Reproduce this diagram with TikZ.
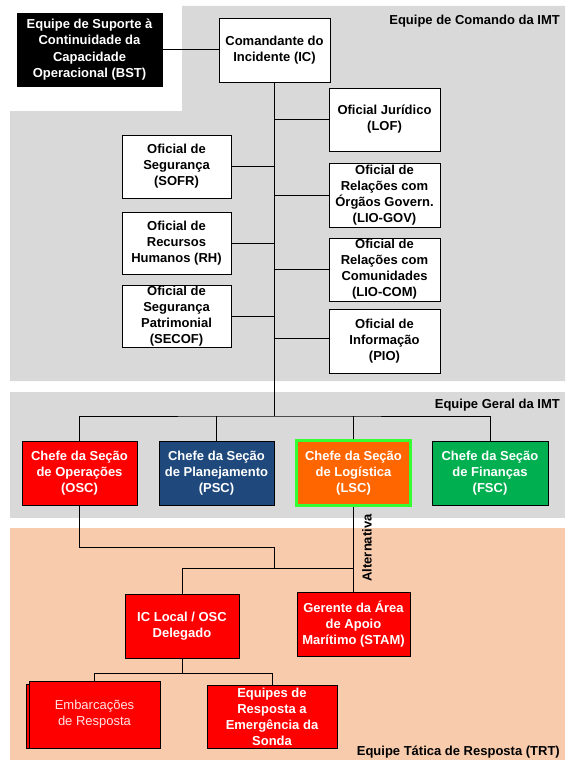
\documentclass[tikz,border=0pt]{standalone}
\usepackage{fontspec}
\setmainfont{Liberation Sans}
\definecolor{graybg}{HTML}{D9D9D9}
\definecolor{peach}{HTML}{F8CBAD}
\definecolor{pscblue}{HTML}{1F497D}
\definecolor{lscorange}{HTML}{FF6600}
\definecolor{fscgreen}{HTML}{00B050}
\definecolor{limeborder}{HTML}{33FF33}
\definecolor{pinkwhite}{HTML}{FFE4E4}
\begin{document}
\begin{tikzpicture}[x=1pt,y=-1pt,
  box/.style={draw=black,line width=0.9pt,align=center,inner sep=0pt,
    font=\fontsize{13}{16}\selectfont\bfseries,minimum height=64pt},
  whitebox/.style={box,fill=white,minimum width=111pt},
  redbox/.style={box,fill=red,text=white},
  conn/.style={draw=black,line width=0.9pt},
  lbl/.style={font=\fontsize{13}{16}\selectfont\bfseries,anchor=east,inner sep=0pt}]
\useasboundingbox (0,0) rectangle (565,760);
% regions
\fill[graybg] (10,111) -- (182,111) -- (182,6) -- (565,6) -- (565,381) -- (10,381) -- cycle;
\fill[graybg] (10,392) rectangle (565,518);
\fill[peach] (10,528) rectangle (565,760);
\node[lbl] (lblA) at (560,21) {Equipe de Comando da IMT};
\node[lbl] (lblB) at (560,405) {Equipe Geral da IMT};
\node[lbl] (lblC) at (560,752) {Equipe Tática de Resposta (TRT)};
% command team
\node[box,fill=black,text=white,minimum width=145pt,minimum height=73pt,
  font=\fontsize{13}{16.5}\selectfont\bfseries] (BST) at (89.5,49.5)
  {Equipe de Suporte à\\Continuidade da\\Capacidade\\Operacional (BST)};
\node[whitebox] (IC) at (274.5,50) {Comandante do\\Incidente (IC)};
\node[whitebox,minimum height=63pt] (LOF) at (384.5,119.5) {Oficial Jurídico\\(LOF)};
\node[whitebox,minimum width=109pt,minimum height=63pt] (SOFR) at (176.5,166.5) {Oficial de\\Segurança\\(SOFR)};
\node[whitebox] (LIOG) at (384.5,195) {Oficial de\\Relações com\\Órgãos Govern.\\(LIO-GOV)};
\node[whitebox,minimum width=109pt,minimum height=62pt] (RH) at (176.5,243) {Oficial de\\Recursos\\Humanos (RH)};
\node[whitebox,minimum height=63pt] (LIOC) at (384.5,269.5) {Oficial de\\Relações com\\Comunidades\\(LIO-COM)};
\node[whitebox,minimum width=109pt,minimum height=62pt] (SECOF) at (176.5,316) {Oficial de\\Segurança\\Patrimonial\\(SECOF)};
\node[whitebox] (PIO) at (384.5,341) {Oficial de\\Informação\\(PIO)};
% general staff
\node[redbox,minimum width=115pt] (OSC) at (79.5,473) {Chefe da Seção\\de Operações\\(OSC)};
\node[box,fill=pscblue,text=white,minimum width=115pt] (PSC) at (216.5,473) {Chefe da Seção\\de Planejamento\\(PSC)};
\node[box,fill=lscorange,text=white,draw=limeborder,line width=3pt,minimum width=114pt,minimum height=65pt] (LSC) at (353.5,473) {Chefe da Seção\\de Logística\\(LSC)};
\node[box,fill=fscgreen,text=white,minimum width=116pt] (FSC) at (490,473) {Chefe da Seção\\de Finanças\\(FSC)};
% tactical team
\node[redbox,minimum width=114pt] (ICL) at (182,626) {IC Local / OSC\\Delegado};
\node[redbox,minimum width=113pt] (STAM) at (353.5,624) {Gerente da Área\\de Apoio\\Marítimo (STAM)};
\node[box,fill=red,minimum width=131pt,minimum height=64pt] (EMBb) at (91.5,716) {};
\node[box,fill=red,text=pinkwhite,font=\fontsize{13}{16}\selectfont,minimum width=131pt,minimum height=67pt] (EMB) at (94.5,714.5) {Embarcações\\de Resposta};
\node[redbox,minimum width=130pt,minimum height=63pt] (EQ) at (272,716.5) {Equipes de\\Resposta a\\Emergência da\\Sonda};
% connectors
\coordinate (barT) at (274.5,416);
\coordinate (c1) at (274.5,547);
\coordinate (c2) at (274.5,568);
\coordinate (b2) at (353.5,568);
\coordinate (j1) at (182,673);
\draw[conn] (BST.east) -- (BST.east -| IC.west);
\draw[conn] (IC.south) -- (barT);
\foreach \n in {SOFR,RH,SECOF}{\draw[conn] (\n.east) -- (\n.east -| IC.south);}
\foreach \n in {LOF,LIOG,LIOC}{\draw[conn] (\n.west) -- (\n.west -| IC.south);}
\draw[conn] (PIO.west) ++(0,-3) -- ++(-54.5,0);
\draw[conn] (OSC.north) |- (barT) -| (FSC.north);
\draw[conn] (PSC.north) -- (PSC.north |- barT);
\draw[conn] (LSC.north) -- (LSC.north |- barT);
\draw[conn] (OSC.south) |- (c1) -- (c2);
\draw[conn] (ICL.north) |- (b2);
\draw[conn] (LSC.south) -- (STAM.north);
\node[font=\fontsize{13}{16}\selectfont\bfseries,rotate=90,inner sep=0pt] (alt) at (367,548) {Alternativa};
\draw[conn] (ICL.south) -- (j1) -| (EMB.north);
\draw[conn] (j1) -| (EQ.north);
\end{tikzpicture}
\end{document}
